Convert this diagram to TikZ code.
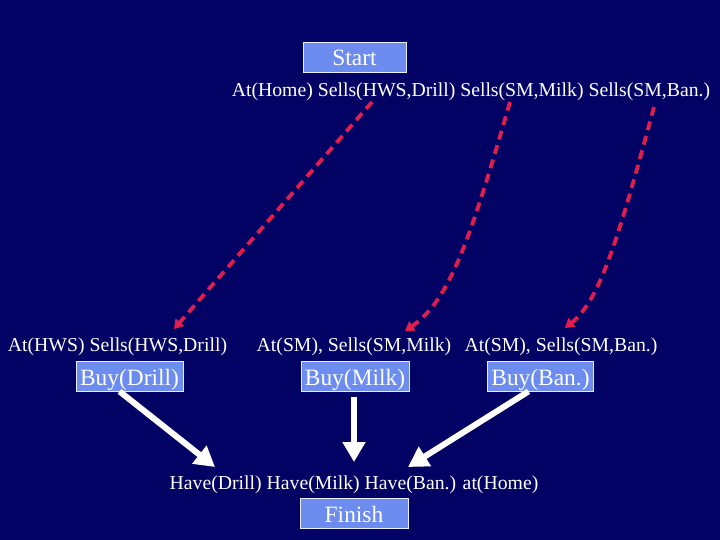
\documentclass[tikz,border=0pt]{standalone}
\usepackage{fontspec}
\setmainfont{Liberation Serif}
\usetikzlibrary{arrows.meta}
\definecolor{navy}{RGB}{2,2,100}
\definecolor{boxblue}{RGB}{108,140,240}
\definecolor{linkred}{RGB}{225,30,75}
\begin{document}
\begin{tikzpicture}[x=1bp,y=-1bp,
    act/.style={draw=white!85!boxblue,line width=0.8bp,fill=boxblue,text=white,
      font=\fontsize{23.5}{26}\selectfont,inner xsep=4bp,inner ysep=0bp,
      text height=20bp,text depth=2bp,minimum height=30bp,minimum width=103bp},
    cond/.style={text=white,font=\fontsize{19.8}{22}\selectfont,inner sep=0bp},
    causal/.style={linkred,line width=3.8bp,dash pattern=on 9bp off 6bp,
      -{Triangle[length=9bp,width=11bp]}},
    order/.style={white,line width=6bp,-{Triangle[length=20bp,width=22bp]}}]
  \fill[navy] (0,0) rectangle (720,540);
  \useasboundingbox (0,0) rectangle (720,540);
  \draw
    (354.5,57) node[act] (start){Start}
    (471,91.5) node[cond] (init){At(Home) Sells(HWS,Drill) Sells(SM,Milk) Sells(SM,Ban.)}
    (117.5,347) node[cond] (pdrill){At(HWS) Sells(HWS,Drill)}
    (354,347) node[cond] (pmilk){At(SM), Sells(SM,Milk)}
    (561,347) node[cond] (pban){At(SM), Sells(SM,Ban.)}
    (129.5,376) node[act] (drill){Buy(Drill)}
    (355,376) node[act] (milk){Buy(Milk)}
    (540.5,376) node[act] (ban){Buy(Ban.)}
    (354,485) node[cond] (goal){Have(Drill) Have(Milk) Have(Ban.) at(Home)}
    (354,513) node[act,minimum width=108bp] (finish){Finish};
  \coordinate (c1) at (372,102);
  \coordinate (c2) at (510,102);
  \coordinate (c3) at (654,107);
  \coordinate (d1) at (174,329);
  \coordinate (d2) at (405,331);
  \coordinate (d3) at (565,328);
  \coordinate (g1) at (215,467);
  \coordinate (g2) at (354,462);
  \coordinate (g3) at (408,467);
  \begin{scope}
    \draw[causal] (c1) to (d1);
    \draw[causal] (c2) .. controls (470,240) and (450,300) .. (d2);
    \draw[causal] (c3) .. controls (618,240) and (600,300) .. (d3);
    \draw[order] ([xshift=-10bp]drill.south) to (g1);
    \draw[order] ([shift={(-1bp,-6bp)}]milk.south) to (g2);
    \draw[order] ([xshift=-12bp]ban.south) to (g3);
  \end{scope}
\end{tikzpicture}
\end{document}
